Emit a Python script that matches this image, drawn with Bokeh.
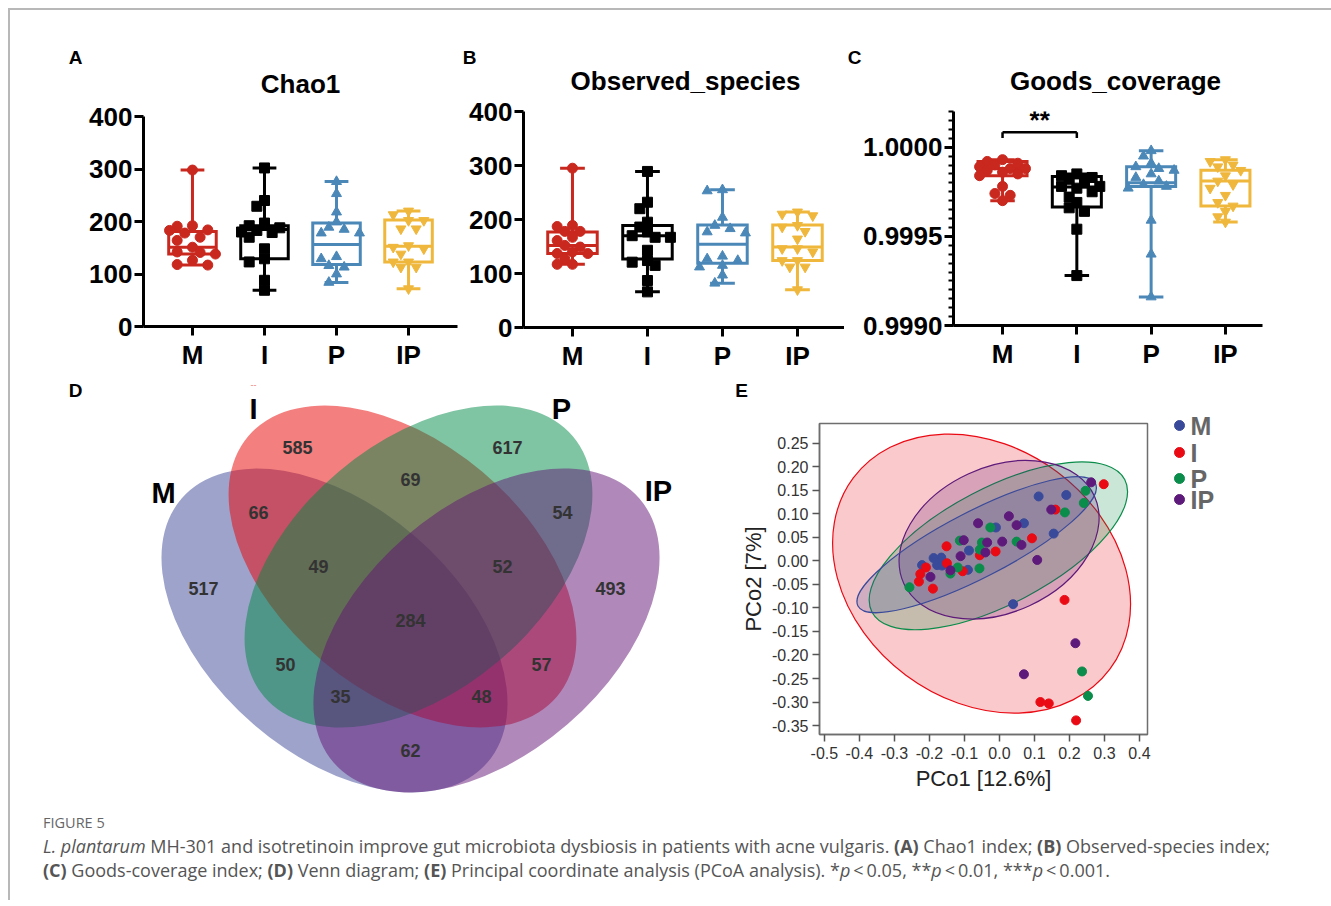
import numpy as np
from bokeh.plotting import figure
from bokeh.models import Range1d, FixedTicker, NumeralTickFormatter, Div
from bokeh.layouts import row, column
from bokeh.core.properties import value
from bokeh.embed import file_html
from bokeh.resources import INLINE

# ---------------- data ----------------
groups = ["M", "I", "P", "IP"]
box_colors = ["#c9281f", "#000000", "#4b88b8", "#efb73c"]
box_markers = ["circle", "square", "triangle", "inverted_triangle"]

chao1_M = [298, 192, 191, 184, 183, 178, 170, 164, 151, 142, 141, 138, 126, 118, 117]
chao1_I = [302, 240, 229, 197, 192, 188, 183, 180, 179, 170, 148, 129, 123, 88, 69]
chao1_P = [276, 253, 218, 199, 189, 185, 178, 178, 133, 129, 116, 113, 100, 84]
chao1_IP = [220, 213, 202, 202, 186, 186, 154, 151, 148, 138, 123, 123, 113, 113, 72]
chao1_q1 = [138, 129, 118, 123]
chao1_med = [151, 185, 156, 153]
chao1_q3 = [181, 192, 197, 203]

obs_M = [295, 189, 187, 178, 178, 167, 161, 152, 149, 140, 137, 137, 127, 117, 117]
obs_I = [289, 232, 220, 195, 186, 177, 170, 167, 167, 143, 124, 121, 115, 87, 66]
obs_P = [255, 253, 204, 189, 183, 177, 175, 132, 127, 124, 115, 112, 97, 82]
obs_IP = [214, 210, 207, 189, 186, 178, 164, 146, 146, 140, 124, 124, 112, 112, 70]
obs_q1 = [137, 127, 119, 124]
obs_med = [152, 170, 154, 149]
obs_q3 = [177, 189, 190, 190]

goods_M = [0.99993, 0.99992, 0.99991, 0.99990, 0.99989, 0.99988, 0.99988, 0.99987,
           0.99986, 0.99985, 0.99984, 0.99978, 0.99974, 0.99973, 0.99970]
goods_I = [0.99985, 0.99984, 0.99983, 0.99982, 0.99980, 0.99978, 0.99978, 0.99977,
           0.99975, 0.99972, 0.99969, 0.99966, 0.99964, 0.99954, 0.99928]
goods_P = [0.99998, 0.99995, 0.99991, 0.99989, 0.99988, 0.99987, 0.99985, 0.99983,
           0.99981, 0.99979, 0.99978, 0.99977, 0.99959, 0.99940, 0.99916]
goods_IP = [0.99993, 0.99992, 0.99990, 0.99989, 0.99987, 0.99984, 0.99981, 0.99979,
            0.99977, 0.99973, 0.99969, 0.99967, 0.99964, 0.99961, 0.99958]
goods_q1 = [0.99984, 0.999664, 0.99978, 0.99967]
goods_med = [0.99988, 0.999776, 0.99980, 0.99981]
goods_q3 = [0.99992, 0.999836, 0.99989, 0.99987]

panel_titles = ["Chao1", "Observed_species", "Goods_coverage"]
panel_letters = ["A", "B", "C"]

# Venn counts
venn_labels = ["585", "617", "69", "66", "54", "517", "493", "49", "52", "284",
               "50", "57", "35", "48", "62"]
venn_lx = [297, 507, 410, 258, 562, 203, 610, 318, 502, 410, 285, 541, 340, 481, 410]
venn_ly = [447, 447, 479, 512, 512, 588, 588, 566, 566, 620, 664, 664, 696, 696, 750]
venn_colors = ["#3d4797", "#e90000", "#008947", "#611375"]
venn_cx = [334, 402, 418, 486]
venn_cy = [630, 566, 566, 630]
venn_a = [202, 202, 202, 202]
venn_b = [124, 124, 124, 124]
venn_ang = [-40.8, -40.1, 40.1, 40.8]
venn_set_x = [163, 253, 561, 658]
venn_set_y = [492, 408, 408, 490]

# PCoA
pc_colors = ["#3a4a9a", "#ea0a14", "#0a8c4a", "#5e1a7a"]
pc_M_x = [0.112, 0.191, 0.155, 0.070, -0.010, -0.087, -0.090, -0.166, -0.188, -0.178, -0.164, -0.221, 0.039]
pc_M_y = [0.137, 0.140, 0.058, 0.080, 0.071, 0.022, -0.019, 0.007, 0.006, -0.009, -0.010, -0.009, -0.092]
pc_I_x = [0.298, 0.160, 0.093, -0.011, -0.056, -0.151, -0.150, -0.105, -0.210, -0.226, -0.230, -0.190, 0.186, 0.117, 0.141, 0.219]
pc_I_y = [0.163, 0.109, 0.048, 0.020, 0.012, 0.031, -0.005, -0.022, -0.014, -0.028, -0.044, -0.059, -0.083, -0.300, -0.303, -0.339]
pc_P_x = [0.246, 0.241, 0.187, -0.026, 0.049, -0.050, -0.056, -0.113, -0.119, -0.140, -0.057, -0.257, 0.236, 0.253]
pc_P_y = [0.149, 0.123, 0.103, 0.071, 0.041, 0.039, 0.024, 0.043, -0.014, -0.027, -0.016, -0.056, -0.235, -0.287]
pc_IP_x = [0.262, 0.148, 0.027, 0.049, -0.061, -0.102, -0.035, 0.008, 0.063, -0.040, -0.111, -0.140, -0.197, 0.108, 0.217, 0.070]
pc_IP_y = [0.167, 0.109, 0.095, 0.076, 0.080, 0.044, 0.039, 0.041, 0.034, 0.018, 0.010, -0.020, -0.034, 0.002, -0.175, -0.241]
# confidence ellipses (centre in data units, semi-axes in screen px, angle in degrees)
ell_order = [1, 2, 3, 0]
ell_cx = [-0.065, -0.051, -0.003, -0.001]
ell_cy = [0.0345, -0.027, 0.032, 0.045]
ell_a = [133.6, 160.0, 142.7, 104.9]
ell_b = [33.1, 126.7, 58.0, 72.7]
ell_ang = [27.3, -36.7, 27.7, 24.7]
pc_xticks = [-0.5, -0.4, -0.3, -0.2, -0.1, 0.0, 0.1, 0.2, 0.3, 0.4]
pc_yticks = [0.25, 0.20, 0.15, 0.10, 0.05, 0.0, -0.05, -0.10, -0.15, -0.20, -0.25, -0.30, -0.35]

FONT = "Liberation Sans"
NARROW = "Liberation Sans Narrow, Liberation Sans"


def swarm(vals, ppx, ppy, d=9.0, maxoff=0.34):
    vals = np.asarray(vals, dtype=float)
    step = d / ppx * 0.85
    cands = [0.0]
    k = 1
    while k * step <= maxoff:
        cands += [-k * step, k * step]
        k += 1
    offs = np.zeros(len(vals))
    placed = []
    for idx in np.argsort(-vals):
        best, bestov = 0.0, 1e9
        for c in cands:
            ov = 0.0
            for o2, v2 in placed:
                dist = np.hypot((c - o2) * ppx, (vals[idx] - v2) * ppy)
                if dist < d:
                    ov += d - dist
            if ov == 0:
                best = c
                break
            if ov < bestov:
                bestov, best = ov, c
        offs[idx] = best
        placed.append((best, vals[idx]))
    return offs


def canvas_fig(x0, x1, y0, y1):
    """Axis-less figure whose data units are page pixels (y measured downwards)."""
    p = figure(width=x1 - x0, height=y1 - y0, x_range=Range1d(x0, x1), y_range=Range1d(-y1, -y0),
               output_backend="svg", toolbar_location=None, x_axis_location=None,
               y_axis_location=None, min_border=0, frame_align=False)
    p.outline_line_color = None
    p.grid.visible = False
    return p


def box_fig(w, h, bl, br, bt, bb, xr, yr, series, q1, med, q3, yticks, fmt=None, minor=None):
    p = figure(width=w, height=h, x_range=Range1d(*xr), y_range=Range1d(*yr),
               output_backend="svg", toolbar_location=None, frame_align=False,
               min_border_left=bl, min_border_right=br, min_border_top=bt, min_border_bottom=bb)
    p.outline_line_color = None
    p.grid.visible = False
    fw, fh = w - bl - br, h - bt - bb
    ppx = fw / (xr[1] - xr[0])
    ppy = fh / (yr[1] - yr[0])
    for i, vals in enumerate(series):
        c = box_colors[i]
        lo, hi = min(vals), max(vals)
        p.segment(x0=[i, i], y0=[q3[i], lo], x1=[i, i], y1=[hi, q1[i]], line_color=c, line_width=3)
        p.segment(x0=[i - 0.165, i - 0.165], y0=[hi, lo], x1=[i + 0.165, i + 0.165], y1=[hi, lo],
                  line_color=c, line_width=3)
        p.quad(left=[i - 0.33], right=[i + 0.33], bottom=[q1[i]], top=[q3[i]], fill_color=None,
               line_color=c, line_width=3, line_join="miter")
        p.segment(x0=[i - 0.33], y0=[med[i]], x1=[i + 0.33], y1=[med[i]], line_color=c, line_width=3)
        offs = swarm(vals, ppx, ppy)
        p.scatter(x=i + offs, y=vals, marker=box_markers[i], size=10, fill_color=c, line_color=c)
    for ax in (p.xaxis[0], p.yaxis[0]):
        ax.axis_line_width = 3
        ax.axis_line_color = "black"
        ax.major_tick_line_width = 3
        ax.major_tick_out = 9
        ax.major_tick_in = 0
        ax.major_label_text_font = FONT
        ax.major_label_text_font_style = "bold"
        ax.major_label_text_color = "black"
        ax.major_label_text_font_size = "26px"
    p.xaxis.ticker = FixedTicker(ticks=[0, 1, 2, 3])
    p.xaxis.major_label_overrides = {0: "M", 1: "I", 2: "P", 3: "IP"}
    p.xaxis.major_label_standoff = 4
    p.xaxis.minor_tick_line_color = None
    p.yaxis.major_label_standoff = 2
    if minor is not None:
        p.yaxis.ticker = FixedTicker(ticks=yticks, minor_ticks=minor)
        p.yaxis.minor_tick_out = 5
        p.yaxis.minor_tick_in = 0
        p.yaxis.minor_tick_line_width = 2
        p.yaxis.minor_tick_line_color = "black"
    else:
        p.yaxis.ticker = FixedTicker(ticks=yticks)
        p.yaxis.minor_tick_line_color = None
    if fmt:
        p.yaxis.formatter = NumeralTickFormatter(format=fmt)
    return p


def header(x0, x1, y1, letter, lx, title, tx, ty):
    h = canvas_fig(x0, x1, 10, y1)
    h.text(x=[lx], y=[-57], text=[letter], text_font=value(FONT), text_font_style="bold",
           text_font_size="19px", text_color="black", text_align="center", text_baseline="middle")
    h.text(x=[tx], y=[-ty], text=[title], text_font=value(FONT), text_font_style="bold",
           text_font_size="26px", text_color="black", text_align="center", text_baseline="middle")
    return h


# ---------------- panel A ----------------
hA = header(10, 460, 99, panel_letters[0], 75, panel_titles[0], 300, 83)
pA = box_fig(450, 279, 133, 3, 17, 52, (-0.68, 3.68), (0, 400),
             [chao1_M, chao1_I, chao1_P, chao1_IP], chao1_q1, chao1_med, chao1_q3,
             [0, 100, 200, 300, 400])

# ---------------- panel B ----------------
hB = header(460, 844, 96, panel_letters[1], 469, panel_titles[1], 685, 80)
pB = box_fig(384, 282, 63, 0, 15, 51, (-0.653, 3.627), (0, 400),
             [obs_M, obs_I, obs_P, obs_IP], obs_q1, obs_med, obs_q3,
             [0, 100, 200, 300, 400])

# ---------------- panel C ----------------
hC = header(844, 1323, 96, panel_letters[2], 854, panel_titles[2], 1115, 80)
minor_c = [0.9990 + k * 0.00005 for k in range(25)]
pC = box_fig(479, 282, 109, 61, 15, 53, (-0.66, 3.499), (0.9990, 1.0002),
             [goods_M, goods_I, goods_P, goods_IP], goods_q1, goods_med, goods_q3,
             [0.9990, 0.9995, 1.0000], fmt="0.0000", minor=minor_c)
pC.segment(x0=[0, 0, 1], y0=[1.000084, 1.000084, 1.000084], x1=[1, 0, 1],
           y1=[1.000084, 1.000051, 1.000051], line_color="black", line_width=2.5)
pC.text(x=[0.5], y=[1.00015], text=["**"], text_font=value(FONT), text_font_style="bold",
        text_font_size="26px", text_color="black", text_align="center", text_baseline="middle")

# ---------------- panel D (Venn) ----------------
pD = canvas_fig(10, 700, 378, 800)
for i in range(4):
    pD.ellipse(x=[venn_cx[i]], y=[-venn_cy[i]], width=[2 * venn_a[i]], height=[2 * venn_b[i]],
               angle=[np.radians(venn_ang[i])], fill_color=venn_colors[i], fill_alpha=0.5,
               line_color=None)
pD.text(x=venn_lx, y=[-v for v in venn_ly], text=venn_labels, text_font=value(FONT),
        text_font_style="bold", text_font_size="18px", text_color="#333333",
        text_align="center", text_baseline="middle")
pD.text(x=venn_set_x, y=[-v for v in venn_set_y], text=groups, text_font=value(NARROW),
        text_font_style="bold", text_font_size="29px", text_color="black",
        text_align="center", text_baseline="middle")
pD.text(x=[75], y=[-390], text=["D"], text_font=value(FONT), text_font_style="bold",
        text_font_size="19px", text_color="black", text_align="center", text_baseline="middle")
pD.text(x=[253], y=[-384], text=["--"], text_font=value(FONT), text_font_size="9px",
        text_color="#f08080", text_align="center", text_baseline="middle")

# ---------------- panel E (PCoA) ----------------
hdrE = canvas_fig(700, 1323, 378, 408)
hdrE.text(x=[741], y=[-390], text=["E"], text_font=value(FONT), text_font_style="bold",
          text_font_size="19px", text_color="black", text_align="center", text_baseline="middle")

xr = (-0.514, 0.423)
yr = (-0.369, 0.292)
pE = figure(width=460, height=392, x_range=Range1d(*xr), y_range=Range1d(*yr),
            output_backend="svg", toolbar_location=None, frame_align=False,
            min_border_left=119, min_border_right=13, min_border_top=15, min_border_bottom=66)
pE.grid.visible = False
pE.outline_line_color = "#6e6e6e"
pE.outline_line_width = 1.5
for k in ell_order:
    pE.ellipse(x=[ell_cx[k]], y=[ell_cy[k]], width=[2 * ell_a[k]], height=[2 * ell_b[k]],
               width_units="screen", height_units="screen", angle=[np.radians(ell_ang[k])],
               fill_color=pc_colors[k], fill_alpha=0.22, line_color=pc_colors[k], line_width=1.2)
pts = [(pc_M_x, pc_M_y), (pc_I_x, pc_I_y), (pc_P_x, pc_P_y), (pc_IP_x, pc_IP_y)]
for i, (xs, ys) in enumerate(pts):
    pE.scatter(x=xs, y=ys, size=9, fill_color=pc_colors[i], line_color=pc_colors[i])
for ax in (pE.xaxis[0], pE.yaxis[0]):
    ax.axis_line_color = "#6e6e6e"
    ax.axis_line_width = 1.5
    ax.major_tick_line_color = "#555555"
    ax.major_tick_line_width = 1.5
    ax.major_tick_out = 7
    ax.major_tick_in = 0
    ax.minor_tick_line_color = None
    ax.major_label_text_font = FONT
    ax.major_label_text_font_size = "16px"
    ax.major_label_text_color = "#333333"
    ax.axis_label_text_font = FONT
    ax.axis_label_text_font_size = "22px"
    ax.axis_label_text_font_style = "normal"
    ax.axis_label_text_color = "#222222"
pE.xaxis.ticker = FixedTicker(ticks=pc_xticks)
pE.yaxis.ticker = FixedTicker(ticks=pc_yticks)
pE.xaxis.formatter = NumeralTickFormatter(format="0.0")
pE.yaxis.formatter = NumeralTickFormatter(format="0.00")
pE.xaxis.major_label_standoff = 5
pE.yaxis.major_label_standoff = 4
pE.xaxis.axis_label = "PCo1 [12.6%]"
pE.yaxis.axis_label = "PCo2 [7%]"
pE.xaxis.axis_label_standoff = 4
pE.yaxis.axis_label_standoff = 3

# legend of panel E
pL = canvas_fig(1160, 1323, 408, 800)
leg_y = [425, 452, 478, 499]
pL.scatter(x=[1179] * 4, y=[-v for v in leg_y], size=10, fill_color=pc_colors, line_color=pc_colors)
pL.text(x=[1190] * 4, y=[-v for v in leg_y], text=groups, text_font=value(NARROW),
        text_font_style="bold", text_font_size="25px", text_color="#666666",
        text_align="left", text_baseline="middle")

# ---------------- caption ----------------
cap_html = (
    '<div style="font-family:\'Open Sans\',sans-serif;color:#555;padding-left:33px;white-space:nowrap;">'
    '<div style="font-size:14.5px;line-height:16px;margin-top:15px;color:#666;">FIGURE 5</div>'
    '<div style="font-size:18px;line-height:24px;margin-top:3px;">'
    '<i>L. plantarum</i> MH-301 and isotretinoin improve gut microbiota dysbiosis in patients with acne vulgaris. '
    '<b>(A)</b> Chao1 index; <b>(B)</b> Observed-species index;<br>'
    '<b>(C)</b> Goods-coverage index; <b>(D)</b> Venn diagram; <b>(E)</b> Principal coordinate analysis '
    '(PCoA analysis). *<i>p</i>&thinsp;&lt;&thinsp;0.05, **<i>p</i>&thinsp;&lt;&thinsp;0.01, '
    '***<i>p</i>&thinsp;&lt;&thinsp;0.001.</div></div>'
)
caption = Div(text=cap_html, width=1321, height=100, margin=0)

content = column(row(column(hA, pA), column(hB, pB), column(hC, pC)),
                 row(pD, column(hdrE, row(pE, pL))), caption,
                 margin=(8, 0, 0, 8),
                 styles={"border-top": "2px solid #b8b8b8", "border-left": "2px solid #b8b8b8"})

open("out.html", "w").write(file_html(content, INLINE))
